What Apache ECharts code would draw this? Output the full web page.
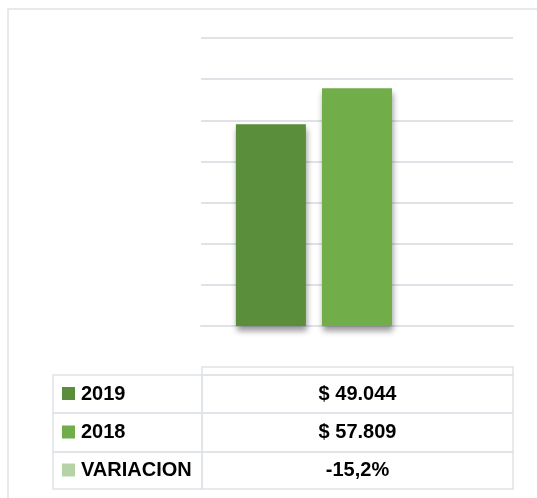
<!DOCTYPE html>
<html>
<head>
<meta charset="utf-8">
<script src="https://cdn.jsdelivr.net/npm/echarts@6/dist/echarts.min.js"></script>
<style>
  html, body { margin: 0; padding: 0; background: #fff; }
  #main { width: 537px; height: 498px; }
</style>
</head>
<body>
<div id="main"></div>
<script>
// datos
const seriesNames = ["2019", "2018", "VARIACION"];
const values = [49044, 57809];
const variacion = -15.2; // porcentaje
const colors = ["#5b8e3a", "#71ad48", "#b5d3a6"];
const yTicks = [0, 10000, 20000, 30000, 40000, 50000, 60000, 70000];

const lineColor = "#dfe3e8";

// formato de la tabla: "$ 49.044"
const fmtMoney = (v) => "$ " + String(v).replace(/\B(?=(\d{3})+(?!\d))/g, ".");
const fmtPct = (v) => v.toFixed(1).replace(".", ",") + "%";
const tableValues = [fmtMoney(values[0]), fmtMoney(values[1]), fmtPct(variacion)];

// tabla de datos debajo del grafico
const tLeft = 53, tMid = 202, tRight = 513;
const rowTops = [375, 413, 452];
const rowBottom = 489;
const graphic = [];

// borde del area del grafico
graphic.push({
  type: "polyline",
  shape: { points: [[8, 498], [8, 9], [537, 9]] },
  style: { stroke: lineColor, lineWidth: 1.5, fill: null },
});

// fila vacia de encabezado
graphic.push({
  type: "rect",
  shape: { x: tMid, y: 367, width: tRight - tMid, height: 8 },
  style: { stroke: lineColor, lineWidth: 1.5, fill: null },
});

seriesNames.forEach((name, i) => {
  const top = rowTops[i];
  const bottom = i < 2 ? rowTops[i + 1] : rowBottom;
  const cy = (top + bottom) / 2;
  graphic.push({
    type: "rect",
    shape: { x: tLeft, y: top, width: tMid - tLeft, height: bottom - top },
    style: { stroke: lineColor, lineWidth: 1.5, fill: null },
  });
  graphic.push({
    type: "rect",
    shape: { x: tMid, y: top, width: tRight - tMid, height: bottom - top },
    style: { stroke: lineColor, lineWidth: 1.5, fill: null },
  });
  graphic.push({
    type: "rect",
    shape: { x: 62, y: cy - 7, width: 13, height: 13 },
    style: { fill: colors[i] },
  });
  graphic.push({
    type: "text",
    x: 81,
    y: cy,
    style: {
      text: name,
      fontFamily: "Liberation Sans",
      fontWeight: "bold",
      fontSize: 20,
      fill: "#000",
      align: "left",
      verticalAlign: "middle",
    },
  });
  graphic.push({
    type: "text",
    x: (tMid + tRight) / 2,
    y: cy,
    style: {
      text: tableValues[i],
      fontFamily: "Liberation Sans",
      fontWeight: "bold",
      fontSize: 20,
      fill: "#000",
      align: "center",
      verticalAlign: "middle",
    },
  });
});

let myChart = echarts.init(document.getElementById("main"));
myChart.setOption({
  animation: false,
  backgroundColor: "#fff",
  grid: { left: 201, right: 24, top: 38, bottom: 172 },
  xAxis: {
    type: "category",
    data: [""],
    axisLine: { show: true, lineStyle: { color: lineColor, width: 2 } },
    axisTick: { show: false },
    axisLabel: { show: false },
  },
  yAxis: {
    type: "value",
    min: yTicks[0],
    max: yTicks[yTicks.length - 1],
    interval: yTicks[1] - yTicks[0],
    axisLabel: { show: false },
    axisLine: { show: false },
    axisTick: { show: false },
    splitLine: { lineStyle: { color: lineColor, width: 2 } },
  },
  series: seriesNames.map((name, i) => ({
    name: name,
    type: "bar",
    barWidth: 70,
    barGap: "23%",
    data: [i < 2 ? values[i] : variacion / 100],
    itemStyle: {
      color: colors[i],
      shadowColor: "rgba(0, 0, 0, 0.4)",
      shadowBlur: 6,
      shadowOffsetX: 1,
      shadowOffsetY: 5,
    },
  })),
  graphic: graphic,
});
</script>
</body>
</html>
